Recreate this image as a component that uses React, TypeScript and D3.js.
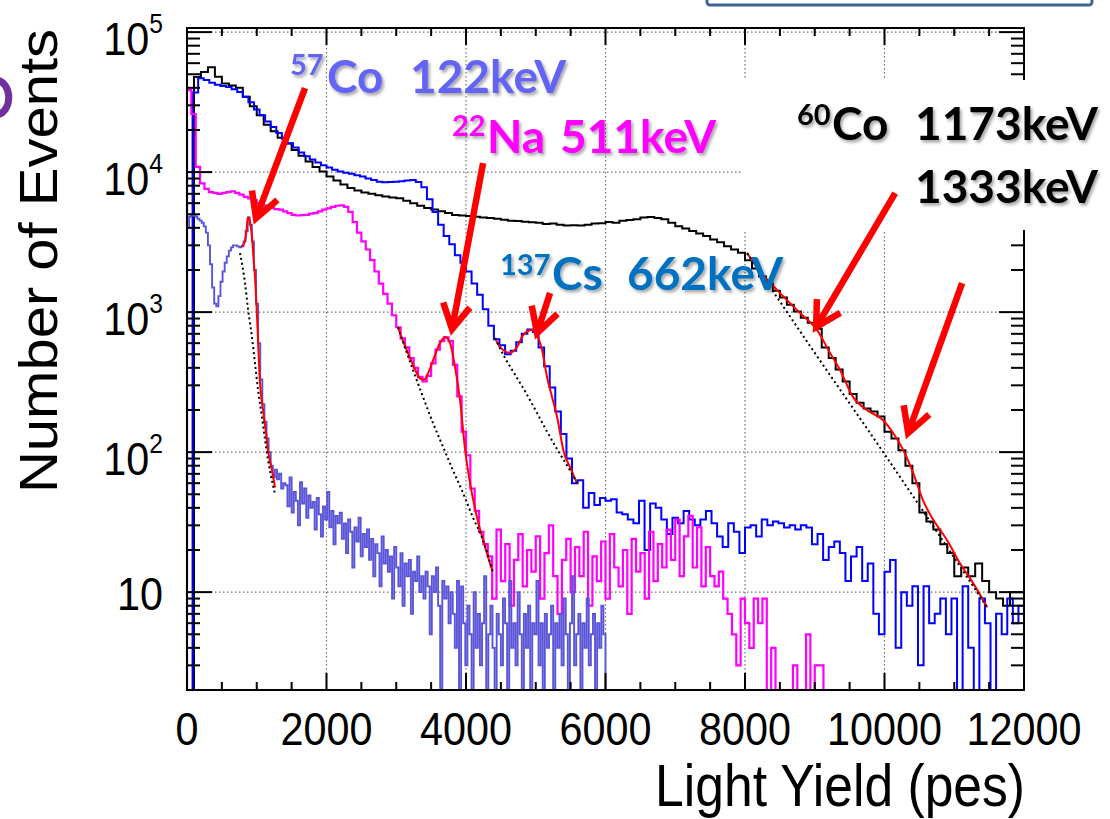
import React from "react";
import * as d3 from "d3";

// ---- axis setup -----------------------------------------------------------
const X_DOMAIN: [number, number] = [0, 12000];
const Y_DOMAIN: [number, number] = [2, 1.07e5];
const xMajorTicks = [0, 2000, 4000, 6000, 8000, 10000, 12000];
const xMinorStep = 500;
const yExponents = [1, 2, 3, 4, 5];

// ---- measured spectra (counts per bin) --------------------------------------
// 60Co, 100 pes bins
const co60BinWidth = 100;
const co60Counts = [
  0, 47700, 52000, 56000, 48000, 43000, 41500, 40000, 34500, 29500,
  25500, 21800, 19600, 17600, 16000, 14400, 13100, 11900, 10900, 10100,
  9300, 8700, 8150, 7700, 7400, 7150, 7000, 6850, 6700, 6600,
  6500, 6250, 6000, 5750, 5550, 5400, 5250, 5100, 4950, 4900,
  4850, 4800, 4750, 4700, 4650, 4560, 4500, 4480, 4420, 4380,
  4350, 4260, 4300, 4200, 4150, 4180, 4150, 4200, 4300, 4320,
  4400, 4350, 4500, 4550, 4600, 4750, 4780, 4700, 4600, 4350,
  4100, 3950, 3800, 3650, 3500, 3300, 3150, 2950, 2800, 2650,
  2350, 2050, 1800, 1600, 1420, 1270, 1130, 1010, 910, 840,
  760, 560, 470, 390, 320, 260, 225, 205, 195, 180,
  140, 125, 103, 80, 60, 37, 32, 28, 22, 19,
  13, 15, 13, 16, 12, 10, 9, 8, 10, 10,
];

// 137Cs, 80 pes bins
const cs137BinWidth = 80;
const cs137Counts = [
  0, 37000, 46900, 45500, 43500, 42000, 41200, 40500, 39000, 37300,
  34500, 31500, 28000, 25500, 23000, 21000, 19000, 17300, 16100, 15000,
  13800, 13000, 12300, 11700, 11200, 10800, 10400, 10100, 9900, 9750,
  9500, 9300, 9000, 8800, 8550, 8450, 8500, 8550, 8600, 8700,
  8800, 8500, 7800, 6400, 5200, 4200, 3500, 3050, 2550, 2250,
  1950, 1600, 1330, 1050, 800, 640, 580, 500, 530, 610,
  700, 750, 720, 560, 410, 290, 195, 135, 90, 60,
  63, 40, 51, 42, 47, 45, 46, 37, 36, 33,
  31, 45, 20, 43, 40, 33, 26, 34, 31, 38,
  33, 30, 33, 38, 31, 25, 21, 31, 27, 19,
  29, 30, 25, 33, 30, 32, 31, 29, 30, 28,
  30, 29, 22, 26, 17, 21, 23, 19, 12, 18,
  21, 12, 16, 7, 5, 14, 17, 4, 10, 8,
  11, 3, 11, 6, 7, 9, 5, 9, 1, 11,
  4, 1, 9, 6, 1, 7, 5, 9, 6, 8,
];

// 22Na, 62.5 pes bins
const na22BinWidth = 62.5;
const na22Counts = [
  38500, 26000, 10900, 8300, 7600, 7200, 7100, 7000, 7100, 7200,
  7300, 7100, 6900, 6650, 6500, 6300, 6000, 5800, 5650, 5550,
  5450, 5400, 5250, 5100, 4950, 4900, 4930, 4950, 5050, 5100,
  5250, 5400, 5500, 5650, 5750, 5800, 5650, 5200, 4400, 3700,
  3200, 2800, 2350, 1950, 1600, 1350, 1150, 950, 780, 650,
  560, 470, 400, 345, 320, 350, 430, 540, 620, 660,
  620, 420, 250, 140, 95, 55, 38, 27, 22,
  18, 9, 28, 12, 22, 8, 17, 26, 11, 20,
  14, 25, 9, 19, 30, 13, 7, 17, 24, 10,
  21, 13, 27, 8, 18, 12, 23, 9, 26, 15,
  11, 20, 7, 24, 14, 19, 9, 27, 12, 22,
  15, 28, 17, 33, 13, 25, 35, 15, 29, 11, 21,
  13, 11, 14, 9, 7, 5, 3, 9, 6, 4,
  9, 6, 9, 2, 4, 2, 1, 1, 1, 3,
  1, 1, 5, 1, 3, 3, 1, 1, 1, 1,
  1, 1, 1, 1, 1, 1, 1, 1, 1, 1,
];

// 57Co, 30 pes bins
const co57BinWidth = 30;
const co57Counts = [
  4000, 4800, 4930, 4900, 4800, 4650, 4500, 4350, 4100, 3700,
  3000, 2200, 1500, 1150, 1100, 1300, 1650, 1950, 2250, 2500,
  2750, 2900, 3000, 3000, 2950, 2900, 2950, 3200, 3800, 4750,
  4200, 3200, 2000, 1150, 600, 330, 220, 165, 125, 100,
  80, 66, 75, 64, 70, 55, 60,
  58, 41, 66, 37, 52, 45, 30, 61, 43, 55, 34, 49, 40,
  44, 28, 47, 36, 25, 41, 33, 52, 29, 38, 22, 35, 31,
  37, 24, 31, 19, 33, 27, 15, 29, 23, 34, 18, 26, 21, 28,
  17, 24, 13, 22, 19, 11, 25, 16, 20, 14, 18, 9, 21,
  15, 11, 19, 8, 16, 13, 17, 7, 14, 12, 18, 10, 13,
  9, 14, 11, 5, 13, 10, 15, 8, 2, 12, 9, 11, 6, 10,
  7, 4, 12, 2, 11, 6, 3, 8, 5, 1,
  10, 4, 7, 3, 6, 13, 2, 5, 8, 4,
  1, 7, 5, 3, 9, 6, 2, 12, 4, 6,
  3, 10, 5, 1, 7, 4, 8, 2, 6, 5,
  12, 3, 6, 1, 7, 4, 5, 8, 2, 6,
  4, 7, 3, 9, 5, 1, 6, 13, 3, 5,
  7, 2, 6, 4, 9, 3, 5, 7, 1, 6,
  4, 8, 5,
];

// ---- photopeak fits [pes, counts] and their background terms ----------------
const fit57Co = [
  [780, 2950], [820, 3100], [850, 3700], [875, 4770], [900, 4500], [932, 3430],
  [960, 2200], [975, 1780], [1004, 921], [1047, 311], [1090, 200], [1133, 137],
  [1162, 103], [1219, 74], [1262, 56],
];
const bkg57Co = [
  [760, 2640], [832, 1610], [875, 1050], [932, 660], [975, 430], [1018, 280],
  [1075, 178], [1119, 122], [1162, 88], [1233, 58], [1262, 50],
];
const fit22Na = [
  [3026, 780], [3054, 708], [3110, 600], [3198, 470], [3270, 390], [3341, 335],
  [3400, 330], [3460, 370], [3528, 454], [3628, 601], [3700, 663], [3771, 601],
  [3843, 405], [3915, 234], [3987, 104], [4058, 60], [4159, 34], [4245, 23.5],
  [4374, 14.4],
];
const bkg22Na = [
  [3026, 780], [3054, 708], [3241, 385], [3385, 247], [3528, 161], [3671, 109],
  [3814, 74], [3958, 51], [4101, 34], [4245, 23.5], [4388, 13.7],
];
const fit137Cs = [
  [4417, 652], [4488, 562], [4632, 513], [4732, 562], [4818, 684], [4947, 744],
  [5019, 684], [5091, 534], [5162, 343], [5234, 247], [5306, 178], [5349, 137],
  [5392, 105], [5492, 78], [5592, 60],
];
const bkg137Cs = [
  [4417, 652], [4560, 470], [4700, 360], [4850, 270], [5019, 190], [5162, 140],
  [5306, 105], [5400, 88], [5492, 74], [5592, 60],
];
const fit60Co = [
  [8030, 2640], [8217, 1950], [8461, 1435], [8790, 985], [9034, 744], [9221, 509],
  [9364, 385], [9550, 247], [9751, 199], [9981, 169], [10124, 137], [10267, 104],
  [10411, 71], [10554, 45], [10698, 33], [10898, 23.5], [11084, 16], [11271, 11.6],
  [11472, 7.8],
];
const bkg60Co = [[8030, 2640], [9000, 512], [9981, 100], [11472, 7.8]];

// ---- peak markers: arrow tail and tip in [pes, counts] ----------------------
const arrowTails = [[1692, 39800], [4245, 11600], [5205, 1370], [10153, 7080], [11113, 1610]];
const arrowTips = [[990, 4690], [3800, 756], [5019, 709], [9020, 782], [10339, 137]];

const AXIS_FONT = "'Liberation Sans', Arial, Helvetica, sans-serif";
const NOTE_FONT = "Lato, 'Open Sans', sans-serif";

const COLORS = {
  co60: "#000000",
  cs137: "#0000ff",
  na22: "#ff00ff",
  co57: "#5a55d8",
  fit: "#ff0000",
  co57Label: "#6464f5",
  cs137Label: "#0070c0",
};

export default function App() {
  const left = 187, right = 1024, top = 28, bottom = 690;
  const x = d3.scaleLinear().domain(X_DOMAIN).range([left, right]);
  const y = d3.scaleLog().domain(Y_DOMAIN).range([bottom, top]);
  const yc = (v: number) => y(Math.min(Math.max(v, Y_DOMAIN[0]), Y_DOMAIN[1]));

  const line = d3.line<[number, number]>().x((d) => d[0]).y((d) => d[1]);
  const histPath = (counts: number[], bw: number) => {
    const pts: [number, number][] = [[x(0), y(Y_DOMAIN[0])]];
    counts.forEach((c, i) => {
      pts.push([x(i * bw), yc(c)], [x((i + 1) * bw), yc(c)]);
    });
    pts.push([x(counts.length * bw), y(Y_DOMAIN[0])]);
    return line(pts) || "";
  };
  const fitPath = (pts: number[][]) =>
    d3
      .line<number[]>()
      .x((d) => x(d[0]))
      .y((d) => y(d[1]))
      .curve(d3.curveMonotoneX)(pts) || "";

  const arrowPath = (from: number[], to: number[]) => {
    const sx = x(from[0]), sy = y(from[1]);
    const tx = x(to[0]), ty = y(to[1]);
    const ang = Math.atan2(sy - ty, sx - tx);
    const len = 28;
    const spread = (29 * Math.PI) / 180;
    const a1 = [tx + len * Math.cos(ang - spread), ty + len * Math.sin(ang - spread)];
    const a2 = [tx + len * Math.cos(ang + spread), ty + len * Math.sin(ang + spread)];
    return `M${sx},${sy}L${tx},${ty}M${a1[0]},${a1[1]}L${tx},${ty}L${a2[0]},${a2[1]}`;
  };

  // minor ticks
  const xMinor = d3.range(X_DOMAIN[0], X_DOMAIN[1] + 1, xMinorStep).filter((v) => v % 2000 !== 0);
  const yMinor: number[] = [];
  for (let e = 0; e <= 4; e++) {
    for (let m = 2; m <= 9; m++) {
      const v = m * Math.pow(10, e);
      if (v > Y_DOMAIN[0] && v < Y_DOMAIN[1]) yMinor.push(v);
    }
  }
  const yMajor = yExponents.map((e) => Math.pow(10, e));

  const grid = { stroke: "#707070", strokeWidth: 1.2, strokeDasharray: "1.5 2.5" };

  return (
    <svg
      width={1110}
      height={819}
      viewBox="0 0 1110 819"
      style={{ position: "absolute", left: 0, top: 0, background: "#fff" }}
    >
      <defs>
        <filter id="noteShadow" x="-10%" y="-20%" width="130%" height="150%">
          <feDropShadow dx="2" dy="2.5" stdDeviation="1.4" floodColor="#000" floodOpacity="0.35" />
        </filter>
      </defs>
      <rect x={0} y={0} width={1110} height={819} fill="#fff" />

      {/* grid */}
      <g>
        {xMajorTicks.slice(1, -1).map((v) => (
          <line key={`gx${v}`} x1={x(v)} x2={x(v)} y1={top} y2={bottom} {...grid} />
        ))}
        {yMajor.map((v) => (
          <line key={`gy${v}`} x1={left} x2={right} y1={y(v)} y2={y(v)} {...grid} />
        ))}
      </g>

      {/* spectra */}
      <g fill="none" strokeLinejoin="miter">
        <path d={histPath(co60Counts, co60BinWidth)} stroke={COLORS.co60} strokeWidth={2} />
        <path d={histPath(cs137Counts, cs137BinWidth)} stroke={COLORS.cs137} strokeWidth={2} />
        <path d={histPath(na22Counts, na22BinWidth)} stroke={COLORS.na22} strokeWidth={2.2} />
        <path d={histPath(co57Counts, co57BinWidth)} stroke={COLORS.co57} strokeWidth={1.9} />
      </g>

      {/* fits */}
      <g fill="none">
        {[fit57Co, fit22Na, fit137Cs, fit60Co].map((f, i) => (
          <path key={`f${i}`} d={fitPath(f)} stroke={COLORS.fit} strokeWidth={2} />
        ))}
        {[bkg57Co, bkg22Na, bkg137Cs, bkg60Co].map((f, i) => (
          <path key={`b${i}`} d={fitPath(f)} stroke="#000" strokeWidth={2} strokeDasharray="2 3" />
        ))}
      </g>

      {/* frame and ticks */}
      <g stroke="#000" strokeWidth={2}>
        {xMajorTicks.map((v) => (
          <g key={`tx${v}`}>
            <line x1={x(v)} x2={x(v)} y1={bottom} y2={bottom - 17} />
            <line x1={x(v)} x2={x(v)} y1={top} y2={top + 17} />
          </g>
        ))}
        {xMinor.map((v) => (
          <g key={`mx${v}`}>
            <line x1={x(v)} x2={x(v)} y1={bottom} y2={bottom - 8} />
            <line x1={x(v)} x2={x(v)} y1={top} y2={top + 8} />
          </g>
        ))}
        {yMajor.map((v) => (
          <g key={`ty${v}`}>
            <line x1={left} x2={left + 25} y1={y(v)} y2={y(v)} />
            <line x1={right} x2={right - 25} y1={y(v)} y2={y(v)} />
          </g>
        ))}
        {yMinor.map((v) => (
          <g key={`my${v}`}>
            <line x1={left} x2={left + 13} y1={y(v)} y2={y(v)} />
            <line x1={right} x2={right - 13} y1={y(v)} y2={y(v)} />
          </g>
        ))}
        <rect x={left} y={top} width={right - left} height={bottom - top} fill="none" />
      </g>

      {/* tick labels */}
      <g fontFamily={AXIS_FONT} fill="#000">
        {xMajorTicks.map((v) => (
          <g key={`lx${v}`} transform={`translate(${x(v)},745) scale(0.88,1)`}>
            <text textAnchor="middle" fontSize={47}>
              {v}
            </text>
          </g>
        ))}
        {yExponents.map((e) =>
          e === 1 ? (
            <g key={`ly${e}`} transform={`translate(163,${y(10) + 18}) scale(0.88,1)`}>
              <text textAnchor="end" fontSize={47}>
                10
              </text>
            </g>
          ) : (
            <g key={`ly${e}`} transform={`translate(163,${y(Math.pow(10, e)) + 23}) scale(0.88,1)`}>
              <text textAnchor="end" fontSize={47}>
                10
                <tspan dy={-22} fontSize={28}>
                  {e}
                </tspan>
              </text>
            </g>
          )
        )}
        <g transform="translate(1025,806) scale(0.86,1)">
          <text textAnchor="end" fontSize={60}>
            Light Yield (pes)
          </text>
        </g>
        <g transform="translate(57,261) rotate(-90) scale(1,0.92)">
          <text textAnchor="middle" fontSize={58}>
            Number of Events
          </text>
        </g>
      </g>

      {/* slide decorations: framed title box edge and a purple glyph edge at the left */}
      <rect x={707} y={-20} width={385} height={25} rx={3} fill="#fff" stroke="#3d6596" strokeWidth={3} />
      <path d="M-4,80 C13,82 13,113 -4,115" fill="none" stroke="#7030a0" strokeWidth={7} />

      {/* label panel over the upper right corner */}
      <rect x={743} y={80} width={367} height={150} fill="#fff" />

      {/* source labels */}
      <g fontFamily={NOTE_FONT} fontWeight="bold" filter="url(#noteShadow)">
        <g fill={COLORS.co57Label}>
          <text x={290} y={75} fontSize={29}>57</text>
          <text x={327} y={93} fontSize={46}>Co</text>
          <text x={410} y={93} fontSize={46}>122keV</text>
        </g>
        <g fill={COLORS.na22}>
          <text x={452} y={136} fontSize={29}>22</text>
          <text x={487} y={153} fontSize={46}>Na</text>
          <text x={560} y={153} fontSize={46}>511keV</text>
        </g>
        <g fill={COLORS.cs137Label}>
          <text x={500} y={275} fontSize={29}>137</text>
          <text x={552} y={290} fontSize={46}>Cs</text>
          <text x={627} y={290} fontSize={46}>662keV</text>
        </g>
        <g fill="#000">
          <text x={797} y={125} fontSize={29}>60</text>
          <text x={832} y={140} fontSize={46}>Co</text>
          <text x={915} y={140} fontSize={46}>1173keV</text>
          <text x={915} y={203} fontSize={46}>1333keV</text>
        </g>
      </g>

      {/* peak arrows */}
      <g fill="none" stroke={COLORS.fit} strokeWidth={6.5} strokeLinejoin="miter" strokeLinecap="butt">
        {arrowTails.map((t, i) => (
          <path key={`a${i}`} d={arrowPath(t, arrowTips[i])} />
        ))}
      </g>
    </svg>
  );
}
